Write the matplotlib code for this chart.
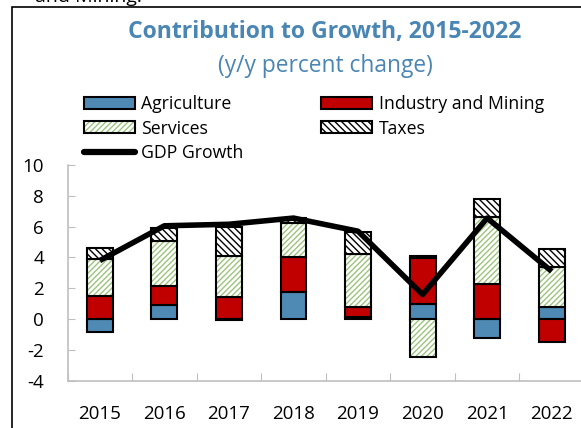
import numpy as np
import matplotlib.pyplot as plt
from matplotlib.patches import Rectangle

plt.rcParams['font.family'] = ['Open Sans', 'DejaVu Sans']
plt.rcParams['axes.unicode_minus'] = False

years = ['2015', '2016', '2017', '2018', '2019', '2020', '2021', '2022']
agriculture = [-0.80, 0.93, -0.05, 1.77, 0.17, 0.99, -1.23, 0.78]
industry = [1.51, 1.22, 1.42, 2.28, 0.65, 2.96, 2.27, -1.45]
services = [2.39, 2.92, 2.70, 2.20, 3.38, -2.42, 4.37, 2.63]
taxes = [0.73, 0.86, 1.85, 0.30, 1.47, 0.15, 1.13, 1.12]
gdp_growth = [3.8, 6.05, 6.15, 6.55, 5.7, 1.6, 6.55, 3.1]

blue = '#4f8ab5'
red = '#c00000'
green = '#9cc47c'
title_blue = '#4a86b4'

fig = plt.figure(figsize=(5.81, 4.28), dpi=100)
ax = fig.add_axes([67.5 / 581, 1 - 381 / 428, (584 - 67.5) / 581, (381 - 164.8) / 428])

x = np.arange(len(years))
pos_base = np.zeros(len(years))
neg_base = np.zeros(len(years))

series = [
    (agriculture, 'Agriculture', dict(facecolor=blue)),
    (industry, 'Industry and Mining', dict(facecolor=red)),
    (services, 'Services', dict(facecolor='white', hatch='//////')),
    (taxes, 'Taxes', dict(facecolor='white', hatch='\\\\\\\\\\')),
]
handles = {}
for vals, name, style in series:
    vals = np.array(vals)
    bottom = np.where(vals >= 0, pos_base, neg_base)
    plt.rcParams['hatch.color'] = green if name == 'Services' else 'black'
    bars = ax.bar(x, vals, width=0.4, bottom=bottom, edgecolor='black',
                  linewidth=1.5, label=name, zorder=3, **style)
    if name == 'Services':
        for b in bars:
            b._hatch_color = plt.matplotlib.colors.to_rgba(green)
    handles[name] = bars
    pos_base = pos_base + np.where(vals >= 0, vals, 0)
    neg_base = neg_base + np.where(vals < 0, vals, 0)

ax.plot(x, gdp_growth, color='black', linewidth=4, zorder=4,
        solid_capstyle='butt', label='GDP Growth')
legend_line, = ax.plot([], [], color='black', linewidth=4.5,
                       solid_capstyle='round')

ax.set_xlim(-0.5, 7.5)
ax.set_ylim(-4, 10)
ax.set_yticks(np.arange(-4, 11, 2))
ax.set_xticks(x)
ax.set_xticklabels(years)
for s in ['top', 'right', 'bottom']:
    ax.spines[s].set_visible(False)
ax.spines['left'].set_color('#bfbfbf')
ax.spines['left'].set_linewidth(1.2)
ax.tick_params(axis='y', direction='in', length=5, color='#bfbfbf',
               labelsize=13.5, pad=17)
ax.tick_params(axis='x', length=0, labelsize=13.5, pad=17)

# zero line with category boundary ticks
zero_axis = ax.secondary_xaxis(0)
zero_axis.set_xticks(np.arange(-0.5, 8, 1))
zero_axis.tick_params(direction='in', length=6, color='#bfbfbf',
                      labelbottom=False)
zero_axis.spines['bottom'].set_color('#bfbfbf')
zero_axis.spines['bottom'].set_linewidth(1.2)

fig.text(324.5 / 581, 1 - 32 / 428, 'Contribution to Growth, 2015-2022',
         ha='center', va='center', fontsize=16.6, fontweight='bold',
         color=title_blue)
fig.text(325 / 581, 1 - 66 / 428, '(y/y percent change)',
         ha='center', va='center', fontsize=16.4, color=title_blue)
fig.text(35 / 581, 1 - 2 / 428, 'and Mining.', ha='left', va='baseline',
         fontsize=14)

order = [handles['Agriculture'], handles['Services'], legend_line,
         handles['Industry and Mining'], handles['Taxes']]
labels = ['Agriculture', 'Services', 'GDP Growth', 'Industry and Mining', 'Taxes']
fig.legend(order, labels, ncol=2, loc='upper left',
           bbox_to_anchor=(84 / 581, 1 - 95 / 428), frameon=False,
           fontsize=12.7, handlelength=2.9, handleheight=0.65,
           handletextpad=0.35, columnspacing=4.4, labelspacing=0.37,
           borderpad=0, borderaxespad=0)

fig.add_artist(Rectangle((12 / 581, -0.5), 2, 0.5 + 1 - 7 / 428,
                         transform=fig.transFigure, fill=False,
                         edgecolor='black', linewidth=1.2))

fig.savefig('out.png', dpi=100)
